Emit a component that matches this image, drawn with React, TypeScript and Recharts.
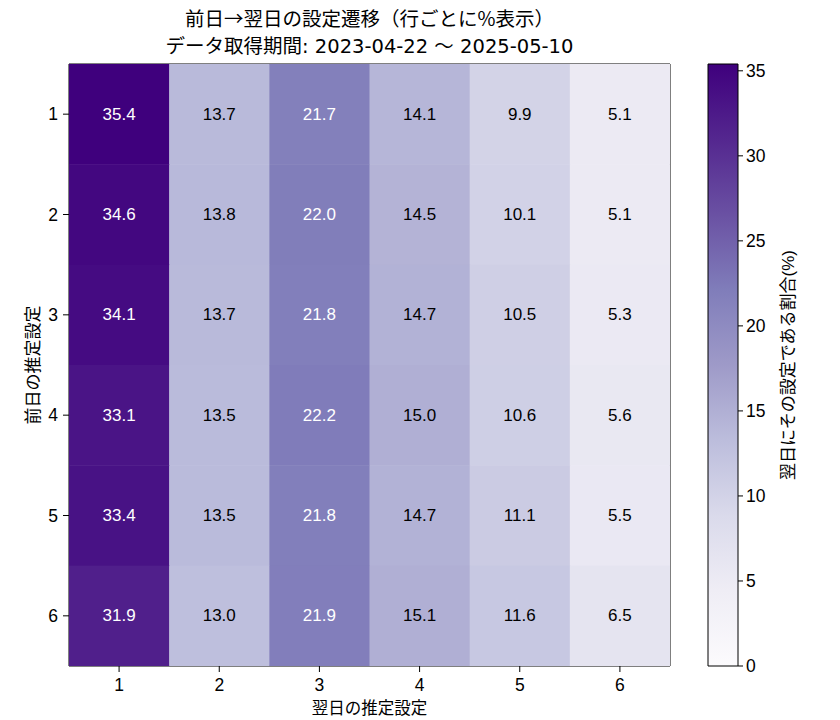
import { ScatterChart, Scatter, XAxis, YAxis, ComposedChart, ReferenceArea } from "recharts";

const settings = [1, 2, 3, 4, 5, 6];
const row1 = [35.4, 13.7, 21.7, 14.1, 9.9, 5.1];
const row2 = [34.6, 13.8, 22.0, 14.5, 10.1, 5.1];
const row3 = [34.1, 13.7, 21.8, 14.7, 10.5, 5.3];
const row4 = [33.1, 13.5, 22.2, 15.0, 10.6, 5.6];
const row5 = [33.4, 13.5, 21.8, 14.7, 11.1, 5.5];
const row6 = [31.9, 13.0, 21.9, 15.1, 11.6, 6.5];
const colorbarTicks = [0, 5, 10, 15, 20, 25, 30, 35];

const rows = [row1, row2, row3, row4, row5, row6];
const vmax = Math.max(...rows.flat());

// matplotlib "Purples"
const purples = ["#fcfbfd", "#efedf5", "#dadaeb", "#bcbddc", "#9e9ac8", "#807dba", "#6a51a3", "#54278f", "#3f007d"];

const FONT = '"Liberation Sans", "Noto Sans CJK JP", sans-serif';
const TITLE_FONT = '"DejaVu Sans", "Noto Sans CJK JP", sans-serif';
const CJK_FONT = '"Noto Sans CJK JP", sans-serif';

function hexToRgb(h: string) {
  return [1, 3, 5].map((i) => parseInt(h.slice(i, i + 2), 16));
}

function purpleAt(v: number) {
  const t = Math.min(1, Math.max(0, v / vmax)) * (purples.length - 1);
  const i = Math.min(purples.length - 2, Math.floor(t));
  const f = t - i;
  const a = hexToRgb(purples[i]);
  const b = hexToRgb(purples[i + 1]);
  const c = a.map((x, k) => Math.round(x + (b[k] - x) * f));
  return `rgb(${c[0]},${c[1]},${c[2]})`;
}

const cells = rows.flatMap((r, ri) =>
  r.map((value, ci) => ({ x: settings[ci], y: settings[ri], value }))
);

// heatmap layout
const W = 680;
const H = 720;
const M = { top: 63, right: 9, bottom: 4, left: 29 };
const Y_W = 40;
const X_H = 50;
const CELL_W = (W - M.left - M.right - Y_W - 1) / settings.length;
const CELL_H = (H - M.top - M.bottom - X_H - 1) / settings.length;

const CellShape = (props: any) => {
  const { cx, cy, payload } = props;
  if (cx == null || cy == null) return null;
  const v = payload.value as number;
  return (
    <g>
      <rect
        x={cx - CELL_W / 2}
        y={cy - CELL_H / 2}
        width={CELL_W + 0.5}
        height={CELL_H + 0.5}
        fill={purpleAt(v)}
      />
      <text
        x={cx}
        y={cy}
        textAnchor="middle"
        dominantBaseline="central"
        fontSize={17}
        fontFamily={FONT}
        fill={v > vmax / 2 ? "#ffffff" : "#000000"}
      >
        {v.toFixed(1)}
      </text>
    </g>
  );
};

const tickStyle = { fontSize: 17.5, fill: "#000", fontFamily: FONT };

export default function App() {
  return (
    <div style={{ position: "absolute", left: 0, top: 0, width: 840, height: 720, background: "#fff", fontFamily: FONT }}>
      <div style={{ position: "absolute", left: 69, width: 601, top: 5, textAlign: "center", fontSize: 19.5, lineHeight: "26px", fontFamily: CJK_FONT }}>
        前日→翌日の設定遷移（行ごとに%表示）
      </div>
      <div style={{ position: "absolute", left: 69, width: 601, top: 34, textAlign: "center", fontSize: 19.5, lineHeight: "26px", fontFamily: TITLE_FONT }}>
        データ取得期間: 2023-04-22 〜 2025-05-10
      </div>

      <div style={{ position: "absolute", left: 0, top: 0 }}>
        <ScatterChart width={W} height={H} margin={M}>
          <XAxis
            dataKey="x"
            type="number"
            domain={[0.5, 6.5]}
            ticks={settings}
            height={X_H}
            tick={tickStyle}
            tickSize={6}
            tickMargin={7}
            tickLine={{ stroke: "#000" }}
            axisLine={{ stroke: "#000" }}
            allowDataOverflow
          />
          <XAxis
            xAxisId="top"
            orientation="top"
            type="number"
            domain={[0.5, 6.5]}
            height={1}
            tick={false}
            tickLine={false}
            axisLine={{ stroke: "#000" }}
          />
          <YAxis
            dataKey="y"
            type="number"
            domain={[0.5, 6.5]}
            ticks={settings}
            reversed
            width={Y_W}
            tick={tickStyle}
            tickSize={6}
            tickMargin={5}
            tickLine={{ stroke: "#000" }}
            axisLine={{ stroke: "#000" }}
            allowDataOverflow
          />
          <YAxis
            yAxisId="right"
            orientation="right"
            type="number"
            domain={[0.5, 6.5]}
            width={1}
            tick={false}
            tickLine={false}
            axisLine={{ stroke: "#000" }}
          />
          <Scatter data={cells} shape={CellShape} isAnimationActive={false} />
        </ScatterChart>
      </div>

      <div style={{ position: "absolute", left: 69, width: 601, top: 697, textAlign: "center", fontSize: 16.5, lineHeight: "20px", fontFamily: CJK_FONT }}>
        翌日の推定設定
      </div>
      <div
        style={{
          position: "absolute",
          left: 32 - 100,
          top: 365 - 11,
          width: 200,
          height: 22,
          textAlign: "center",
          fontSize: 17,
          lineHeight: "22px",
          fontFamily: CJK_FONT,
          transform: "rotate(-90deg)",
        }}
      >
        前日の推定設定
      </div>

      <div style={{ position: "absolute", left: 680, top: 0 }}>
        <ComposedChart width={160} height={720} margin={{ top: 64, right: 62, bottom: 54, left: 28 }} data={[{ x: 0, y: 0 }]}>
          <defs>
            <linearGradient id="cbar" x1="0" y1="0" x2="0" y2="1">
              {purples
                .slice()
                .reverse()
                .map((c, i) => (
                  <stop key={c} offset={`${(i / (purples.length - 1)) * 100}%`} stopColor={c} />
                ))}
            </linearGradient>
          </defs>
          <XAxis dataKey="x" type="number" domain={[0, 1]} hide />
          <YAxis
            orientation="right"
            type="number"
            domain={[0, vmax]}
            ticks={colorbarTicks}
            width={40}
            tick={tickStyle}
            tickSize={5}
            tickMargin={3}
            tickLine={{ stroke: "#000" }}
            axisLine={false}
            allowDataOverflow
          />
          <ReferenceArea x1={0} x2={1} y1={0} y2={vmax} fill="url(#cbar)" fillOpacity={1} stroke="#000" strokeWidth={1} />
        </ComposedChart>
      </div>
      <div
        style={{
          position: "absolute",
          left: 789 - 150,
          top: 365 - 11,
          width: 300,
          height: 22,
          textAlign: "center",
          fontSize: 17,
          lineHeight: "22px",
          fontFamily: '"Liberation Sans", "Noto Sans CJK JP", sans-serif',
          transform: "rotate(-90deg)",
        }}
      >
        翌日にその設定である割合(%)
      </div>
    </div>
  );
}
